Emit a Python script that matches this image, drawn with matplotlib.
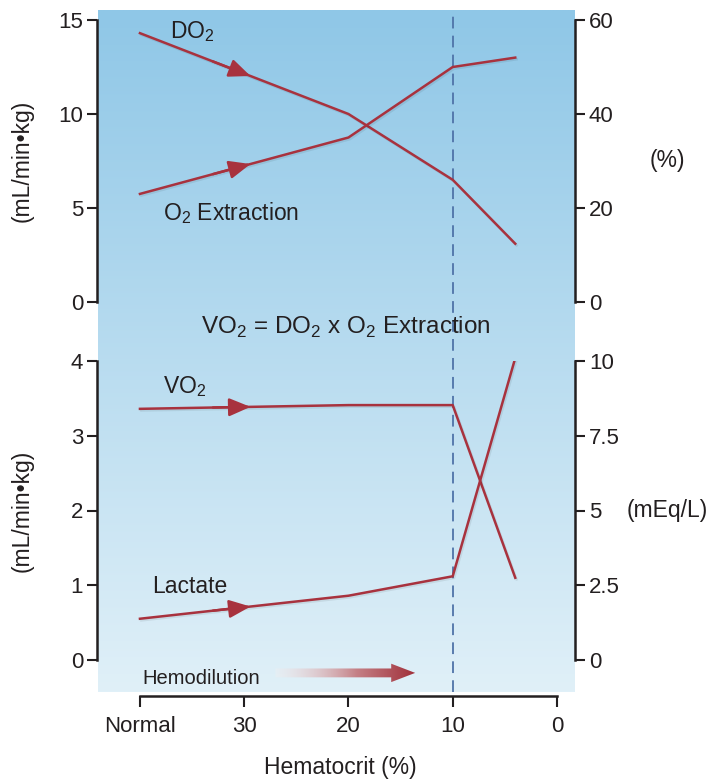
import numpy as np
import matplotlib
matplotlib.use('Agg')
import matplotlib.pyplot as plt
from matplotlib import patheffects as pe
from matplotlib.patches import Polygon

plt.rcParams['font.family'] = ['Liberation Sans', 'DejaVu Sans']
plt.rcParams['mathtext.fontset'] = 'custom'
plt.rcParams['mathtext.rm'] = 'Liberation Sans'

# data
hct_ticks = [40, 30, 20, 10, 0]
hct_labels = ['Normal', '30', '20', '10', '0']
hct = [40, 20, 10, 4]
do2 = [14.3, 10.0, 6.5, 3.1]          # mL/min.kg (left, top)
o2_ext = [23, 35, 50, 52]             # % (right, top)
vo2 = [3.36, 3.41, 3.41, 1.1]         # mL/min.kg (left, bottom)
lactate = [1.38, 2.15, 2.8, 10.1]     # mEq/L (right, bottom)

RED = '#a8323e'
TXT = '#231f20'
SPINE = '#231f20'
W, H = 714, 782
FS = 16.5


def rect(x0, y0, x1, y1):
    return [x0 / W, 1 - y1 / H, (x1 - x0) / W, (y1 - y0) / H]


XLIM = (44.12, -1.73)
shadow = [pe.SimpleLineShadow(offset=(1, -1.2), alpha=0.07, shadow_color='k'), pe.Normal()]

fig = plt.figure(figsize=(W / 100, H / 100), dpi=100)

# gradient background
bg = fig.add_axes(rect(97, 10, 575, 692), zorder=-1)
top_c = np.array([0x8f, 0xc7, 0xe7]) / 255
bot_c = np.array([0xe0, 0xf0, 0xf8]) / 255
t = np.linspace(0, 1, 256)[:, None]
grad = top_c[None, None, :] * (1 - t[:, :, None]) + bot_c[None, None, :] * t[:, :, None]
bg.imshow(np.repeat(grad, 2, axis=1), aspect='auto', extent=(XLIM[0] - 0.1, XLIM[1], 0, 1),
          origin='upper', zorder=0)
bg.set_xlim(XLIM)
bg.set_ylim(0, 1)
bg.axis('off')
bg.axvline(10, color='#4f73a8', lw=1.3, ls=(0, (6.5, 4)), zorder=1)

# hemodilution gradient arrow
ay, sh, hw = 0.028, 0.0065, 0.0135
x0, xh, xt = 27.0, 15.9, 13.6
arr = Polygon([(x0, ay - sh), (xh, ay - sh), (xh, ay - hw), (xt, ay), (xh, ay + hw),
               (xh, ay + sh), (x0, ay + sh)], closed=True, fc='none', ec='none',
              transform=bg.transData)
bg.add_patch(arr)
ramp = np.linspace(0, 1, 200)
c0 = np.array([0.97, 0.94, 0.94])
c1 = np.array([0.63, 0.19, 0.23])
rgba = np.zeros((2, 200, 4))
rgba[:, :, :3] = c0 * (1 - ramp[:, None]) + c1 * ramp[:, None]
rgba[:, :, 3] = np.clip(0.3 + ramp * 1.2, 0, 1)
im = bg.imshow(rgba, aspect='auto', extent=(x0, xt, ay - hw, ay + hw), zorder=2)
im.set_clip_path(arr)
bg.text(39.8, 0.0205, 'Hemodilution', fontsize=14.5, color=TXT, ha='left', va='center')


def style(ax, side):
    ax.set_facecolor('none')
    ax.set_xlim(XLIM)
    for s in ax.spines.values():
        s.set_visible(False)
    ax.spines[side].set_visible(True)
    ax.spines[side].set_linewidth(1.8)
    ax.spines[side].set_color(SPINE)
    ax.tick_params(axis='y', length=7, width=1.5, colors=SPINE, labelsize=16,
                   labelcolor=TXT, pad=3)
    ax.tick_params(axis='x', bottom=False, labelbottom=False, top=False, labeltop=False)


def head(ax, xs, ys):
    xs_r, ys_r = xs[::-1], ys[::-1]
    xa, xb = 33.0, 29.4
    ax.annotate('', xy=(xb, np.interp(xb, xs_r, ys_r)), xytext=(xa, np.interp(xa, xs_r, ys_r)),
                arrowprops=dict(arrowstyle='-|>,head_length=1.3,head_width=0.55',
                                fc=RED, ec=RED, lw=1.8, shrinkA=0, shrinkB=0))


# top panel
ax1 = fig.add_axes(rect(97, 20, 575, 302))
ax1r = ax1.twinx()
style(ax1, 'left')
style(ax1r, 'right')
ax1.set_ylim(0, 15)
ax1.set_yticks([0, 5, 10, 15])
ax1r.set_ylim(0, 60)
ax1r.set_yticks([0, 20, 40, 60])
ax1.plot(hct, do2, color=RED, lw=1.8, path_effects=shadow)
ax1r.plot(hct, o2_ext, color=RED, lw=1.8, path_effects=shadow)
head(ax1, hct, do2)
head(ax1r, hct, o2_ext)
ax1.text(37.1, 14.05, 'DO$_\\mathregular{2}$', fontsize=FS, color=TXT, va='baseline')
ax1.text(37.8, 4.36, 'O$_\\mathregular{2}$ Extraction', fontsize=FS, color=TXT, va='baseline')
ax1.set_ylabel('(mL/min\u2022kg)', fontsize=FS, color=TXT)
ax1.yaxis.set_label_coords(-0.157, 0.5)
ax1.yaxis.label.set_va('center')
ax1r.set_ylabel('(%)', fontsize=FS, color=TXT, rotation=0)
ax1r.yaxis.set_label_coords(1.157, 0.5)
ax1r.yaxis.label.set_ha('left')
ax1r.yaxis.label.set_va('center')

fig.text(346 / W, 1 - 327 / H,
         'VO$_\\mathregular{2}$ = DO$_\\mathregular{2}$ x O$_\\mathregular{2}$ Extraction',
         fontsize=17.5, color=TXT, ha='center', va='center')

# bottom panel
ax2 = fig.add_axes(rect(97, 361, 575, 660))
ax2r = ax2.twinx()
style(ax2, 'left')
style(ax2r, 'right')
ax2.set_ylim(0, 4)
ax2.set_yticks([0, 1, 2, 3, 4])
ax2r.set_ylim(0, 10)
ax2r.set_yticks([0, 2.5, 5, 7.5, 10])
ax2r.set_yticklabels(['0', '2.5', '5', '7.5', '10'])
ax2.plot(hct, vo2, color=RED, lw=1.8, path_effects=shadow)
ax2r.plot(hct, lactate, color=RED, lw=1.8, path_effects=shadow)
head(ax2, hct, vo2)
head(ax2r, hct, lactate)
ax2.text(37.8, 3.57, 'VO$_\\mathregular{2}$', fontsize=FS, color=TXT, va='baseline')
ax2.text(38.85, 0.9, 'Lactate', fontsize=FS, color=TXT, va='baseline')
ax2.set_ylabel('(mL/min\u2022kg)', fontsize=FS, color=TXT)
ax2.yaxis.set_label_coords(-0.157, 0.5)
ax2.yaxis.label.set_va('center')
ax2r.set_ylabel('(mEq/L)', fontsize=FS, color=TXT, rotation=0)
ax2r.yaxis.set_label_coords(1.109, 0.5)
ax2r.yaxis.label.set_ha('left')
ax2r.yaxis.label.set_va('center')

# x axis
ax2.spines['bottom'].set_visible(True)
ax2.spines['bottom'].set_position(('outward', 26))
ax2.spines['bottom'].set_bounds(0, 40)
ax2.spines['bottom'].set_linewidth(1.8)
ax2.spines['bottom'].set_color(SPINE)
ax2.set_xticks(hct_ticks)
ax2.set_xticklabels(hct_labels)
ax2.tick_params(axis='x', bottom=True, labelbottom=True, length=8, width=1.5,
                colors=SPINE, labelsize=16, labelcolor=TXT, pad=6)
ax2.set_xlabel('Hematocrit (%)', fontsize=FS, color=TXT)
ax2.xaxis.set_label_coords(0.508, -0.361)
ax2.xaxis.label.set_va('center')

fig.savefig('out.png', dpi=100)
